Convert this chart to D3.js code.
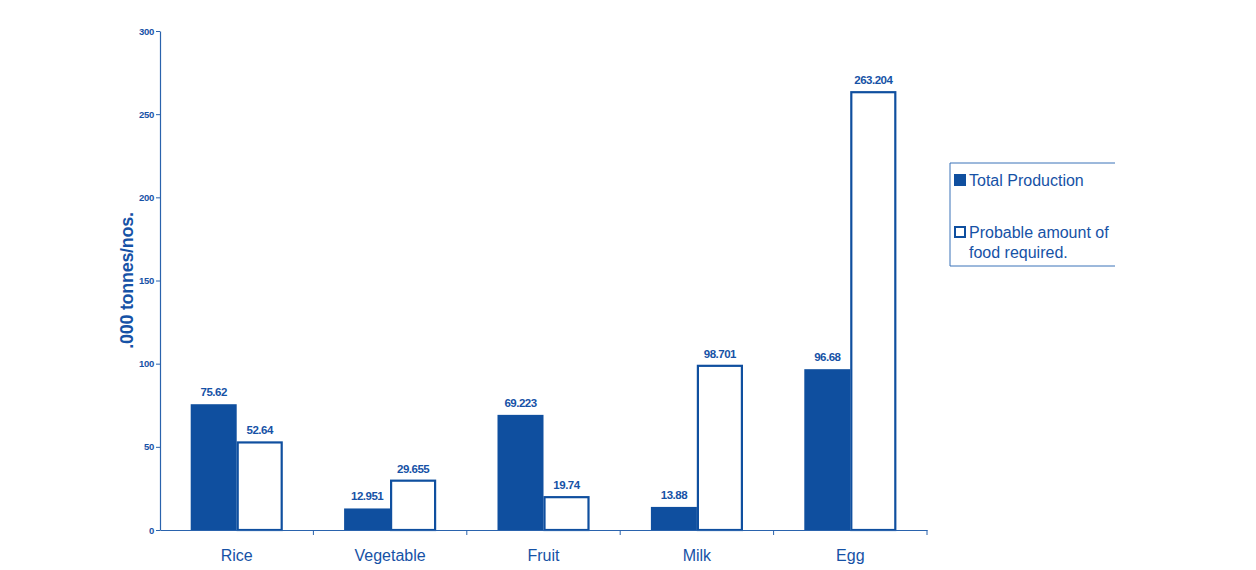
<!DOCTYPE html>
<html>
<head>
<meta charset="utf-8">
<script src="https://cdn.jsdelivr.net/npm/d3@7"></script>
<style>
  body { margin: 0; background: #fff; }
  text { font-family: "Liberation Sans", Arial, sans-serif; }
</style>
</head>
<body>
<div id="graphic"></div>
<script>
// chart data
const categories = ["Rice", "Vegetable", "Fruit", "Milk", "Egg"];
const production = [75.62, 12.951, 69.223, 13.88, 96.68];
const required = [52.64, 29.655, 19.74, 98.701, 263.204];
const yTicks = [0, 50, 100, 150, 200, 250, 300];

const blue = "#0f4f9f";
const textBlue = "#1652a6";

const width = 1256, height = 570;
const margin = { top: 31, right: 329, bottom: 40, left: 160 };
const innerW = width - margin.left - margin.right;
const innerH = height - margin.top - margin.bottom;

const svg = d3.select("#graphic").append("svg")
  .attr("width", width)
  .attr("height", height);

const g = svg.append("g")
  .attr("transform", "translate(" + margin.left + "," + margin.top + ")");

// scales
const x0 = d3.scaleBand().domain(categories).range([0, innerW]);
// the two bars of a group take 92px of each band
const x1 = d3.scaleBand().domain(["prod", "req"]).range([0, 92]);
const y = d3.scaleLinear().domain([0, 300]).range([innerH, 0]);

// bars
const groups = g.selectAll(".grp")
  .data(categories)
  .enter().append("g")
  .attr("class", "grp")
  .attr("transform", d => "translate(" + (x0(d) + (x0.bandwidth() - 92) / 2) + ",0)");

groups.append("rect")
  .attr("x", x1("prod"))
  .attr("width", x1.bandwidth())
  .attr("y", (d, i) => y(production[i]))
  .attr("height", (d, i) => innerH - y(production[i]))
  .attr("fill", blue);

groups.append("rect")
  .attr("x", x1("req") + 1)
  .attr("width", x1.bandwidth() - 2)
  .attr("y", (d, i) => y(required[i]))
  .attr("height", (d, i) => innerH - y(required[i]))
  .attr("fill", "#fff")
  .attr("stroke", blue)
  .attr("stroke-width", 2.2);

// value labels
function valueLabel(sel, key, vals) {
  sel.append("text")
    .attr("x", x1(key) + x1.bandwidth() / 2)
    .attr("y", (d, i) => y(vals[i]) - 8)
    .attr("text-anchor", "middle")
    .attr("font-size", 11.5)
    .attr("font-weight", "bold")
    .attr("letter-spacing", "-0.5")
    .attr("fill", textBlue)
    .text((d, i) => vals[i]);
}
valueLabel(groups, "prod", production);
valueLabel(groups, "req", required);

// x axis
const xAxis = g.append("g")
  .attr("transform", "translate(0," + innerH + ")")
  .call(d3.axisBottom(x0).tickSize(0).tickFormat(""));
xAxis.select(".domain").attr("stroke", "#2a63ad").attr("stroke-width", 1.2);
// small marks between categories
g.selectAll(".sep")
  .data(categories)
  .enter().append("line")
  .attr("x1", d => x0(d) + x0.bandwidth())
  .attr("x2", d => x0(d) + x0.bandwidth())
  .attr("y1", innerH)
  .attr("y2", innerH + 5)
  .attr("stroke", "#2a63ad");

g.selectAll(".cat")
  .data(categories)
  .enter().append("text")
  .attr("x", d => x0(d) + x0.bandwidth() / 2)
  .attr("y", innerH + 31)
  .attr("text-anchor", "middle")
  .attr("font-size", 16)
  .attr("fill", textBlue)
  .text(d => d);

// y axis
const yAxis = g.append("g")
  .call(d3.axisLeft(y).tickValues(yTicks).tickSize(4).tickSizeOuter(0));
yAxis.select(".domain").attr("stroke", "#2a63ad").attr("stroke-width", 1.2);
yAxis.selectAll(".tick line").attr("stroke", "#2a63ad");
yAxis.selectAll(".tick text")
  .attr("fill", textBlue)
  .attr("font-size", 9.5)
  .attr("font-weight", "bold")
  .attr("letter-spacing", "-0.3")
  .attr("x", -6);

g.append("text")
  .attr("transform", "translate(-27," + (y(150)) + ") rotate(-90)")
  .attr("text-anchor", "middle")
  .attr("font-size", 18)
  .attr("font-weight", "bold")
  .attr("letter-spacing", "-0.3")
  .attr("fill", textBlue)
  .text(".000 tonnes/nos.");

// legend
const lg = svg.append("g").attr("transform", "translate(950,163)");
lg.append("path")
  .attr("d", "M165,0H0V103H165")
  .attr("fill", "none")
  .attr("stroke", "#3a72b8").attr("stroke-width", 1);
lg.append("rect")
  .attr("x", 4).attr("y", 11).attr("width", 12).attr("height", 12)
  .attr("fill", blue);
lg.append("text")
  .attr("x", 19).attr("y", 23)
  .attr("font-size", 16).attr("fill", textBlue)
  .text("Total Production");
lg.append("rect")
  .attr("x", 5).attr("y", 64).attr("width", 10).attr("height", 10)
  .attr("fill", "#fff").attr("stroke", blue).attr("stroke-width", 2);
lg.append("text")
  .attr("x", 19).attr("y", 75)
  .attr("font-size", 16).attr("fill", textBlue)
  .text("Probable amount of");
lg.append("text")
  .attr("x", 19).attr("y", 95)
  .attr("font-size", 16).attr("fill", textBlue)
  .text("food required.");
</script>
</body>
</html>
